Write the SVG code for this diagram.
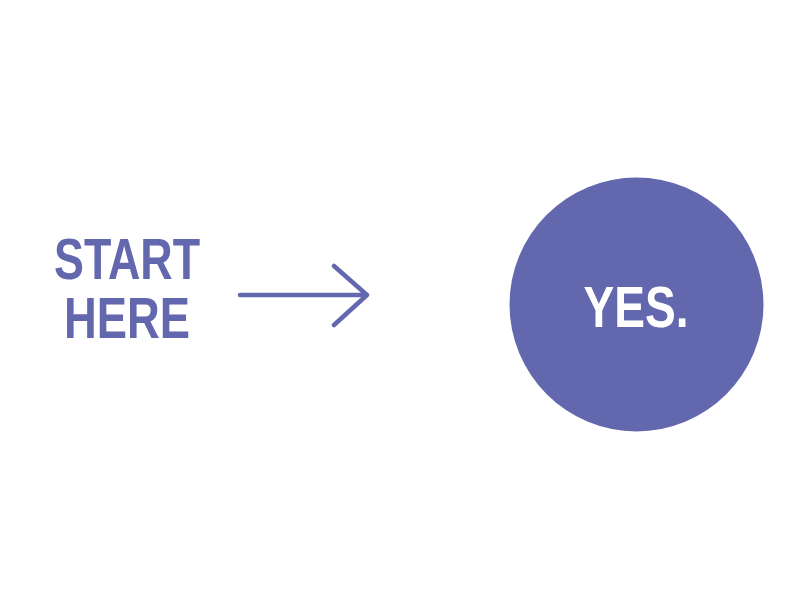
<svg xmlns="http://www.w3.org/2000/svg" width="800" height="600" viewBox="0 0 800 600">
<style>
.lbl{font-family:"Liberation Sans",Arial,sans-serif;font-weight:bold;text-anchor:middle}
.conn{fill:none;stroke:#6367ae;stroke-width:4.5;stroke-linecap:round;stroke-linejoin:round}
</style>
<rect width="800" height="600" fill="#ffffff"/>
<g id="start">
<text class="lbl" x="127" y="279" font-size="58" fill="#6367ae" textLength="146" lengthAdjust="spacingAndGlyphs">START</text>
<text class="lbl" x="127" y="338" font-size="58" fill="#6367ae" textLength="126" lengthAdjust="spacingAndGlyphs">HERE</text>
</g>
<g id="connectors">
<path class="conn" d="M240 295 H367 M334 266 L367 295 L334 325"/>
</g>
<g id="yes">
<circle cx="636.5" cy="304.5" r="127" fill="#6367ae"/>
<text class="lbl" x="636" y="327" font-size="58" fill="#ffffff" textLength="105" lengthAdjust="spacingAndGlyphs">YES.</text>
</g>
</svg>
